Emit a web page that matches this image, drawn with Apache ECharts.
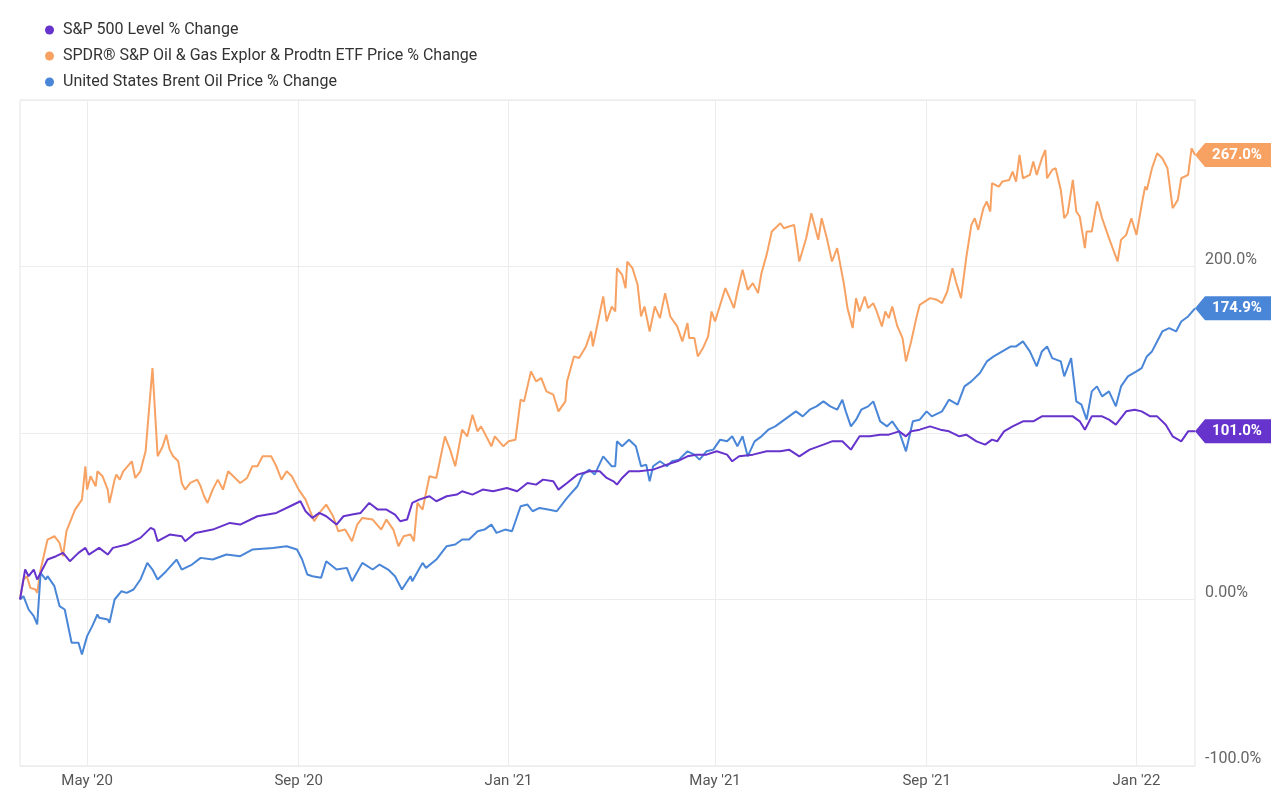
<!DOCTYPE html>
<html>
<head>
<meta charset="utf-8">
<title>S&amp;P 500 vs XOP vs Brent</title>
<script src="https://cdn.jsdelivr.net/npm/echarts@6/dist/echarts.min.js"></script>
<style>
  html, body { margin: 0; padding: 0; background: #fff; }
  #main { width: 1271px; height: 792px; }
</style>
</head>
<body>
<div id="main"></div>
<script type="text/javascript">
// x values are days after 2020-03-23, all series are % change from that day
var END_DAY = 683;

var spDays = [0,3,5,8,10,13,16,21,25,29,34,38,40,46,51,54,62,70,76,78,80,87,94,96,102,112,122,128,138,149,157,163,166,170,174,178,184,188,193,198,203,208,213,218,221,225,228,232,238,242,248,254,257,263,269,275,283,289,295,300,304,310,313,318,324,331,337,341,345,347,350,354,360,368,376,382,388,393,399,405,411,414,418,426,434,442,447,453,459,467,472,478,483,488,494,500,505,511,515,518,523,529,535,540,546,550,556,561,565,568,572,577,583,589,594,600,606,612,616,619,623,629,633,637,643,648,652,657,661,666,670,675,679,683];
var spValues = [0,18,14,18,12,18,24,26,28,23,28,31,27,31,27,31,33,37,43,42,35,39,38,35,40,42,46,45,50,52,56,59,53,49,52,50,45,50,51,52,58,54,54,51,47,48,58,60,62,59,62,63,65,63,66,65,67,65,70,69,72,71,66,70,75,77,77,73,71,69,73,77,77,78,81,83,86,87,87,89,87,83,86,87,89,89,90,86,90,93,95,95,90,98,98,99,99,101,98,101,102,104,102,101,98,99,95,93,96,95,101,104,107,107,110,110,110,110,107,102,110,110,108,105,113,114,113,110,110,105,98,95,101,101.0];

var xopDays = [0,2,4,6,9,10,12,16,20,23,25,27,32,36,38,39,41,44,45,48,51,52,55,56,58,60,65,67,70,73,77,80,83,85,87,89,92,94,96,99,103,105,107,109,112,115,118,121,124,128,132,135,138,141,146,149,152,155,158,162,166,171,174,178,182,185,189,193,196,199,205,206,210,213,217,220,223,227,229,231,234,238,242,247,250,253,257,260,263,266,268,274,276,281,284,288,291,293,297,300,303,306,310,313,317,318,322,325,329,332,333,336,339,341,344,346,347,350,352,353,356,359,361,363,366,369,372,375,378,382,385,388,389,392,394,397,400,402,404,407,410,413,415,417,420,423,426,429,431,434,437,442,444,447,450,453,457,460,464,466,469,472,475,476,479,481,484,486,488,491,493,496,498,501,503,505,507,510,513,515,518,521,523,529,533,536,539,542,544,547,550,553,555,557,560,562,564,565,569,571,575,577,579,581,583,587,589,591,594,596,597,600,602,605,607,609,612,614,616,619,620,623,626,627,629,633,638,640,643,646,649,652,654,655,658,661,664,667,670,673,675,679,681,683];
var xopValues = [0,12,14,7,6,4,18,36,38,34,26,41,54,60,80,66,74,68,77,74,66,58,72,75,72,77,83,73,77,89,139,86,92,99,90,86,83,70,66,70,72,68,62,58,66,72,66,77,74,70,73,80,80,86,86,80,72,77,74,66,60,47,52,57,50,41,42,35,45,49,48,47,42,48,42,32,38,39,35,58,54,74,73,98,90,80,102,98,111,101,104,92,98,92,95,96,120,119,137,131,133,125,123,113,119,131,146,145,152,161,152,167,182,167,176,173,199,195,187,203,199,189,170,176,161,176,169,184,170,164,155,166,157,157,146,151,158,173,167,177,187,180,175,185,198,186,190,184,196,207,221,226,223,224,225,203,217,232,216,229,217,203,211,210,189,175,163,181,173,182,175,178,173,164,173,169,176,164,157,143,155,169,177,181,180,178,185,199,191,181,205,225,229,222,235,239,233,250,248,251,252,257,251,267,253,255,263,255,265,270,253,258,259,246,229,232,252,233,230,211,221,221,239,237,229,217,203,216,219,229,219,237,248,246,259,268,265,259,235,240,253,255,271,267.0];

var brentDays = [0,2,5,8,10,12,15,16,20,23,26,30,34,36,39,42,45,46,51,52,55,59,62,66,70,74,77,80,85,91,94,100,105,112,120,128,135,147,155,161,164,167,170,175,178,184,190,193,199,205,209,214,218,222,227,228,234,236,242,248,253,257,261,266,270,274,277,282,286,291,295,298,302,307,312,318,324,327,331,334,339,344,346,347,350,354,358,361,364,366,368,372,376,379,383,388,392,395,399,403,407,411,414,417,420,423,427,431,435,439,443,447,451,455,459,463,467,471,475,478,480,483,486,489,493,496,500,504,507,511,515,519,523,527,530,536,540,545,549,553,558,562,566,571,576,579,583,587,591,594,597,600,605,607,611,614,617,620,623,626,629,633,637,640,644,649,652,655,658,661,664,668,672,675,679,683];
var brentValues = [0,2,-6,-10,-15,16,12,14,8,-4,-6,-26,-26,-33,-22,-16,-9,-11,-12,-14,0,5,4,6,12,22,18,12,17,24,18,21,25,24,27,26,30,31,32,30,24,15,14,13,23,18,19,11,22,18,21,18,14,6,14,11,22,19,24,32,33,36,36,41,42,45,40,42,41,56,57,53,55,54,53,61,68,75,78,75,86,80,80,95,92,96,92,80,81,71,80,83,80,83,84,89,87,84,89,90,96,95,98,92,98,86,95,98,102,104,107,110,113,110,114,116,119,116,114,120,113,104,108,114,116,119,107,104,107,101,89,107,108,113,110,113,120,117,128,131,136,143,146,149,152,152,155,149,140,149,152,145,143,134,145,119,117,108,125,128,122,125,116,128,134,137,139,146,149,155,161,163,161,167,170,174.9];

// x axis ticks every four months (1 May 2020, 1 Sep 2020, ...)
var monthTickDays = [39, 162, 284, 404, 527, 649];
var monthTickLabels = ["May '20", "Sep '20", "Jan '21", "May '21", "Sep '21", "Jan '22"];

var seriesNames = ['S&P 500 Level % Change', 'SPDR® S&P Oil & Gas Explor & Prodtn ETF Price % Change', 'United States Brent Oil Price % Change'];
var seriesColors = ['#6633cc', '#f7a263', '#4a86d8'];

function pairs(days, values) {
  var out = [];
  for (var i = 0; i < days.length; i++) out.push([days[i], values[i]]);
  return out;
}

var myChart = echarts.init(document.getElementById('main'), null, { renderer: 'canvas' });
var FONT = 'Roboto, "Noto Sans", sans-serif';

function makeSeries(name, color, days, values) {
  var last = values.length - 1;
  return {
    name: name,
    type: 'line',
    data: pairs(days, values),
    showSymbol: false,
    symbol: 'none',
    lineStyle: { width: 2, color: color },
    itemStyle: { color: color },
    emphasis: { disabled: true },
    markPoint: {
      symbol: 'path://M0,12 L10,0 L80,0 L80,24 L10,24 Z',
      symbolSize: [80, 24],
      symbolKeepAspect: false,
      symbolOffset: [40, 0],
      silent: true,
      itemStyle: { color: color },
      label: {
        show: true,
        position: 'inside',
        offset: [2, 0],
        color: '#fff',
        fontFamily: FONT,
        fontWeight: 'bold',
        fontSize: 15,
        formatter: function (p) { return p.value.toFixed(1) + '%'; }
      },
      data: [{ coord: [days[last], values[last]], value: values[last] }]
    }
  };
}

var option = {
  animation: false,
  backgroundColor: '#ffffff',
  textStyle: { fontFamily: FONT },
  legend: {
    orient: 'vertical',
    left: 40,
    top: 17,
    icon: 'circle',
    itemWidth: 9,
    itemHeight: 9,
    itemGap: 10,
    data: seriesNames,
    textStyle: { fontSize: 16, color: '#333', fontFamily: FONT, padding: [0, 0, 0, 4] }
  },
  grid: {
    left: 20,
    right: 76,
    top: 100,
    bottom: 26,
    show: true,
    borderColor: '#e4e4e4',
    borderWidth: 1
  },
  xAxis: {
    type: 'value',
    min: 0,
    max: END_DAY,
    axisLine: { show: false },
    axisTick: { show: false, customValues: monthTickDays },
    axisLabel: {
      customValues: monthTickDays,
      color: '#555',
      fontSize: 15,
      fontFamily: FONT,
      margin: 8,
      formatter: function (v) {
        var i = monthTickDays.indexOf(v);
        return i >= 0 ? monthTickLabels[i] : '';
      }
    },
    splitLine: { show: true, lineStyle: { color: '#ececec', width: 1 } }
  },
  yAxis: {
    type: 'value',
    position: 'right',
    min: -100,
    max: 300,
    interval: 100,
    axisLine: { show: false },
    axisTick: { show: false },
    splitLine: { lineStyle: { color: '#ececec', width: 1 } },
    axisLabel: {
      color: '#666',
      fontSize: 16,
      fontFamily: FONT,
      margin: 10,
      verticalAlign: 'bottom',
      lineHeight: 14,
      formatter: function (v) {
        if (v === 300 || v === 100) return '';
        if (v === 0) return '0.00%';
        return v.toFixed(1) + '%';
      }
    }
  },
  series: [
    makeSeries(seriesNames[1], seriesColors[1], xopDays, xopValues),
    makeSeries(seriesNames[2], seriesColors[2], brentDays, brentValues),
    makeSeries(seriesNames[0], seriesColors[0], spDays, spValues)
  ]
};

myChart.setOption(option);
</script>
</body>
</html>
